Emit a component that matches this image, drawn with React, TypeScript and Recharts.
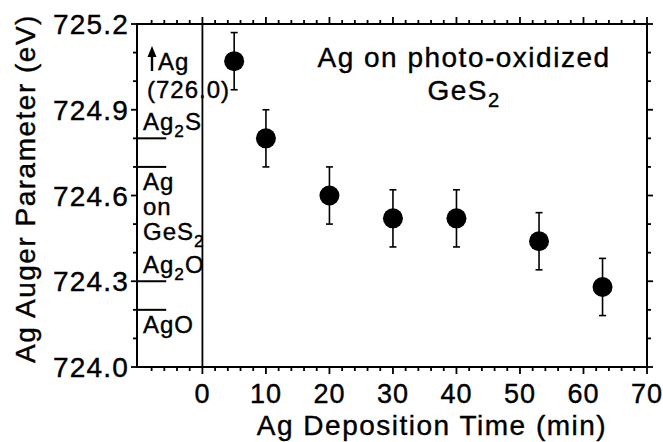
import { ScatterChart, Scatter, XAxis, YAxis, ReferenceLine } from 'recharts'

// measured Ag Auger parameter vs Ag deposition time
const depositionTimes = [5, 10, 20, 30, 40, 53, 63]
const augerParameter = [725.07, 724.8, 724.6, 724.52, 724.52, 724.44, 724.28]
const augerError = [0.1, 0.1, 0.1, 0.1, 0.1, 0.1, 0.1]

// reference compounds shown in the inset on the left
const refNames = ['Ag2S', 'Ag on GeS2', 'Ag2O', 'AgO']
const refValues = [724.8, 724.7, 724.3, 724.2]
const metallicAg = 726.0 // off scale, drawn as an arrow

const xTicks = [-8, -6, -4, -2, 0, 2, 4, 6, 8, 10, 12, 14, 16, 18, 20, 22, 24, 26, 28, 30, 32, 34, 36, 38, 40, 42, 44, 46, 48, 50, 52, 54, 56, 58, 60, 62, 64, 66, 68]
const xLabelTicks = [0, 10, 20, 30, 40, 50, 60, 70]
const yTicks = [724.1, 724.2, 724.3, 724.4, 724.5, 724.6, 724.7, 724.8, 724.9, 725.0, 725.1]
const yLabelTicks = ['724.0', '724.3', '724.6', '724.9', '725.2']

const X_MIN = -10.3
const X_MAX = 70
const Y_MIN = 724.0
const Y_MAX = 725.2
const INSET_END = -5.7

const FONT = '"Liberation Sans", Arial, Helvetica, sans-serif'
const INKY = { fill: '#000', stroke: '#000', strokeWidth: 0.4 }
const BIG = { fontFamily: FONT, fontSize: 28, letterSpacing: '1.5px', ...INKY }
const XTICK = { fontFamily: FONT, fontSize: 27, letterSpacing: '1px', ...INKY }
const YTICK = { fontFamily: FONT, fontSize: 28, letterSpacing: '1.2px', ...INKY }
const SMALL = { fontFamily: FONT, fontSize: 24, letterSpacing: '1px', ...INKY }

const data = depositionTimes.map((t, i) => ({ time: t, value: augerParameter[i] }))

// solid bars instead of stroked lines
function hBar(x1: number, x2: number, y: number, w = 1.8) {
  return <rect x={Math.min(x1, x2)} y={y - w / 2} width={Math.abs(x2 - x1)} height={w} fill="#000" />
}
function vBar(x: number, y1: number, y2: number, w = 1.8) {
  return <rect x={x - w / 2} y={Math.min(y1, y2)} width={w} height={Math.abs(y2 - y1)} fill="#000" />
}

// turn digits into subscripts (Ag2S -> Ag₂S)
function chem(s: string, size: number) {
  const parts = s.split(/(\d)/).filter(p => p !== '')
  let low = false
  return parts.map((p, i) => {
    if (/\d/.test(p)) {
      low = true
      return <tspan key={i} dy={7} fontSize={size * 0.72}>{p}</tspan>
    }
    const dy = low ? -7 : 0
    low = false
    return <tspan key={i} dy={dy}>{p}</tspan>
  })
}

// tick marks on bottom + top edges, labels under the bottom one
function xTickShape(v: number) {
  return (p: any) => {
    const top = Math.min(p.y1, p.y2)
    const bottom = Math.max(p.y1, p.y2)
    const major = xLabelTicks.includes(v)
    const len = major ? 7 : 4
    return (
      <g>
        {vBar(p.x1, bottom, bottom + len)}
        {vBar(p.x1, top, top - len)}
        {major && (
          <text x={p.x1} y={bottom + 36} textAnchor="middle" style={XTICK}>{v}</text>
        )}
      </g>
    )
  }
}

// tick marks on left + right edges, labels left of the left one
function yTickShape(v: number) {
  return (p: any) => {
    const left = Math.min(p.x1, p.x2)
    const right = Math.max(p.x1, p.x2)
    const label = v.toFixed(1)
    const major = yLabelTicks.includes(label)
    const len = major ? 6 : 4
    return (
      <g>
        {hBar(left, left - len, p.y1)}
        {hBar(right, right + len, p.y1)}
        {major && (
          <text x={left - 8} y={p.y1 + 10} textAnchor="end" style={YTICK}>{label}</text>
        )}
      </g>
    )
  }
}

// frame edges, which also carry the end ticks
function frameEdge(v: number, horizontal: boolean) {
  return (p: any) => {
    const major = horizontal ? yLabelTicks.includes(v.toFixed(1)) : xLabelTicks.includes(v)
    return (
      <g>
        {horizontal ? hBar(p.x1 - 1, p.x2 + 1, p.y1, 2) : vBar(p.x1, p.y1 - 1, p.y2 + 1, 2)}
        {major && (horizontal ? yTickShape(v)(p) : xTickShape(v)(p))}
      </g>
    )
  }
}

function dividerShape(p: any) {
  return vBar(p.x1, p.y1, p.y2)
}

function levelShape(p: any) {
  return hBar(p.x1, p.x2, p.y1, 2)
}

function errorShape(p: any) {
  return (
    <g>
      {vBar(p.x1, p.y1, p.y2, 1.6)}
      {hBar(p.x1 - 3.5, p.x1 + 3.5, p.y1, 1.6)}
      {hBar(p.x1 - 3.5, p.x1 + 3.5, p.y2, 1.6)}
    </g>
  )
}

function XTitle({ viewBox }: any) {
  return (
    <text x={viewBox.x + viewBox.width / 2 + 40} y={viewBox.y + 68} textAnchor="middle" style={BIG}>
      Ag Deposition Time (min)
    </text>
  )
}

function YTitle({ viewBox }: any) {
  const x = 35
  const y = viewBox.y + viewBox.height / 2 - 7
  return (
    <text x={x} y={y} transform={`rotate(-90, ${x}, ${y})`} textAnchor="middle" style={BIG}>
      Ag Auger Parameter (eV)
    </text>
  )
}

function ChartTitle({ viewBox }: any) {
  const cx = viewBox.x + viewBox.width / 2 + 72
  return (
    <g>
      <text x={cx} y={viewBox.y + 43} textAnchor="middle" style={BIG}>Ag on photo-oxidized</text>
      <text x={cx} y={viewBox.y + 76} textAnchor="middle" style={BIG}>{chem('GeS2', 28)}</text>
    </g>
  )
}

function OffScaleLabel({ viewBox }: any) {
  const x = viewBox.x
  const y = viewBox.y
  return (
    <g>
      {vBar(x + 15, y + 47, y + 30, 2.4)}
      <path d={`M${x + 10.5} ${y + 33} L${x + 19.5} ${y + 33} L${x + 15} ${y + 22} Z`} fill="#000" />
      <text x={x + 21} y={y + 46} style={SMALL}>Ag</text>
      <text x={x + 10} y={y + 74} style={SMALL}>({metallicAg.toFixed(1)})</text>
    </g>
  )
}

// text sits above the line for Ag2S / Ag2O and below it for the other two
const labelBelow = [false, true, false, true]

function refLabel(i: number) {
  return ({ viewBox }: any) => {
    const x = viewBox.x + 6
    const y = viewBox.y
    if (!labelBelow[i]) {
      return <text x={x} y={y - 8} style={SMALL}>{chem(refNames[i], 24)}</text>
    }
    const words = refNames[i].split(' ')
    return (
      <g>
        {words.map((w, k) => (
          <text key={k} x={x} y={y + 23 + k * 25} style={SMALL}>{chem(w, 24)}</text>
        ))}
      </g>
    )
  }
}

export default function App() {
  return (
    <div style={{ position: 'absolute', left: 0, top: 0, width: 663, height: 442, background: '#fff' }}>
      <ScatterChart width={663} height={442} margin={{ top: 24, right: 16, bottom: 75, left: 137 }}>
        <XAxis xAxisId="b" dataKey="time" type="number" domain={[X_MIN, X_MAX]} allowDataOverflow hide />
        <YAxis yAxisId="l" dataKey="value" type="number" domain={[Y_MIN, Y_MAX]} allowDataOverflow hide />

        {/* frame */}
        <ReferenceLine xAxisId="b" yAxisId="l" y={Y_MIN} shape={frameEdge(Y_MIN, true)} label={XTitle} />
        <ReferenceLine xAxisId="b" yAxisId="l" y={Y_MAX} shape={frameEdge(Y_MAX, true)} label={ChartTitle} />
        <ReferenceLine xAxisId="b" yAxisId="l" x={X_MIN} shape={frameEdge(X_MIN, false)} label={YTitle} />
        <ReferenceLine xAxisId="b" yAxisId="l" x={X_MAX} shape={frameEdge(X_MAX, false)} />

        {xTicks.map(v => (
          <ReferenceLine key={`x${v}`} xAxisId="b" yAxisId="l" x={v} shape={xTickShape(v)} />
        ))}
        {yTicks.map(v => (
          <ReferenceLine key={`y${v}`} xAxisId="b" yAxisId="l" y={v} shape={yTickShape(v)} />
        ))}

        {/* divider between reference inset and time axis */}
        <ReferenceLine xAxisId="b" yAxisId="l" x={0} shape={dividerShape} />
        <ReferenceLine xAxisId="b" yAxisId="l" y={Y_MAX} shape={() => <g />} label={OffScaleLabel} />
        {refValues.map((v, i) => (
          <ReferenceLine
            key={refNames[i]}
            xAxisId="b"
            yAxisId="l"
            segment={[{ x: X_MIN, y: v }, { x: INSET_END, y: v }]}
            shape={levelShape}
            label={refLabel(i)}
          />
        ))}

        {/* error bars */}
        {depositionTimes.map((t, i) => (
          <ReferenceLine
            key={`e${t}`}
            xAxisId="b"
            yAxisId="l"
            segment={[{ x: t, y: augerParameter[i] - augerError[i] }, { x: t, y: augerParameter[i] + augerError[i] }]}
            shape={errorShape}
          />
        ))}

        <Scatter
          xAxisId="b"
          yAxisId="l"
          data={data}
          isAnimationActive={false}
          shape={(p: any) => <circle cx={p.cx} cy={p.cy} r={10} fill="#000" />}
        />
      </ScatterChart>
    </div>
  )
}
